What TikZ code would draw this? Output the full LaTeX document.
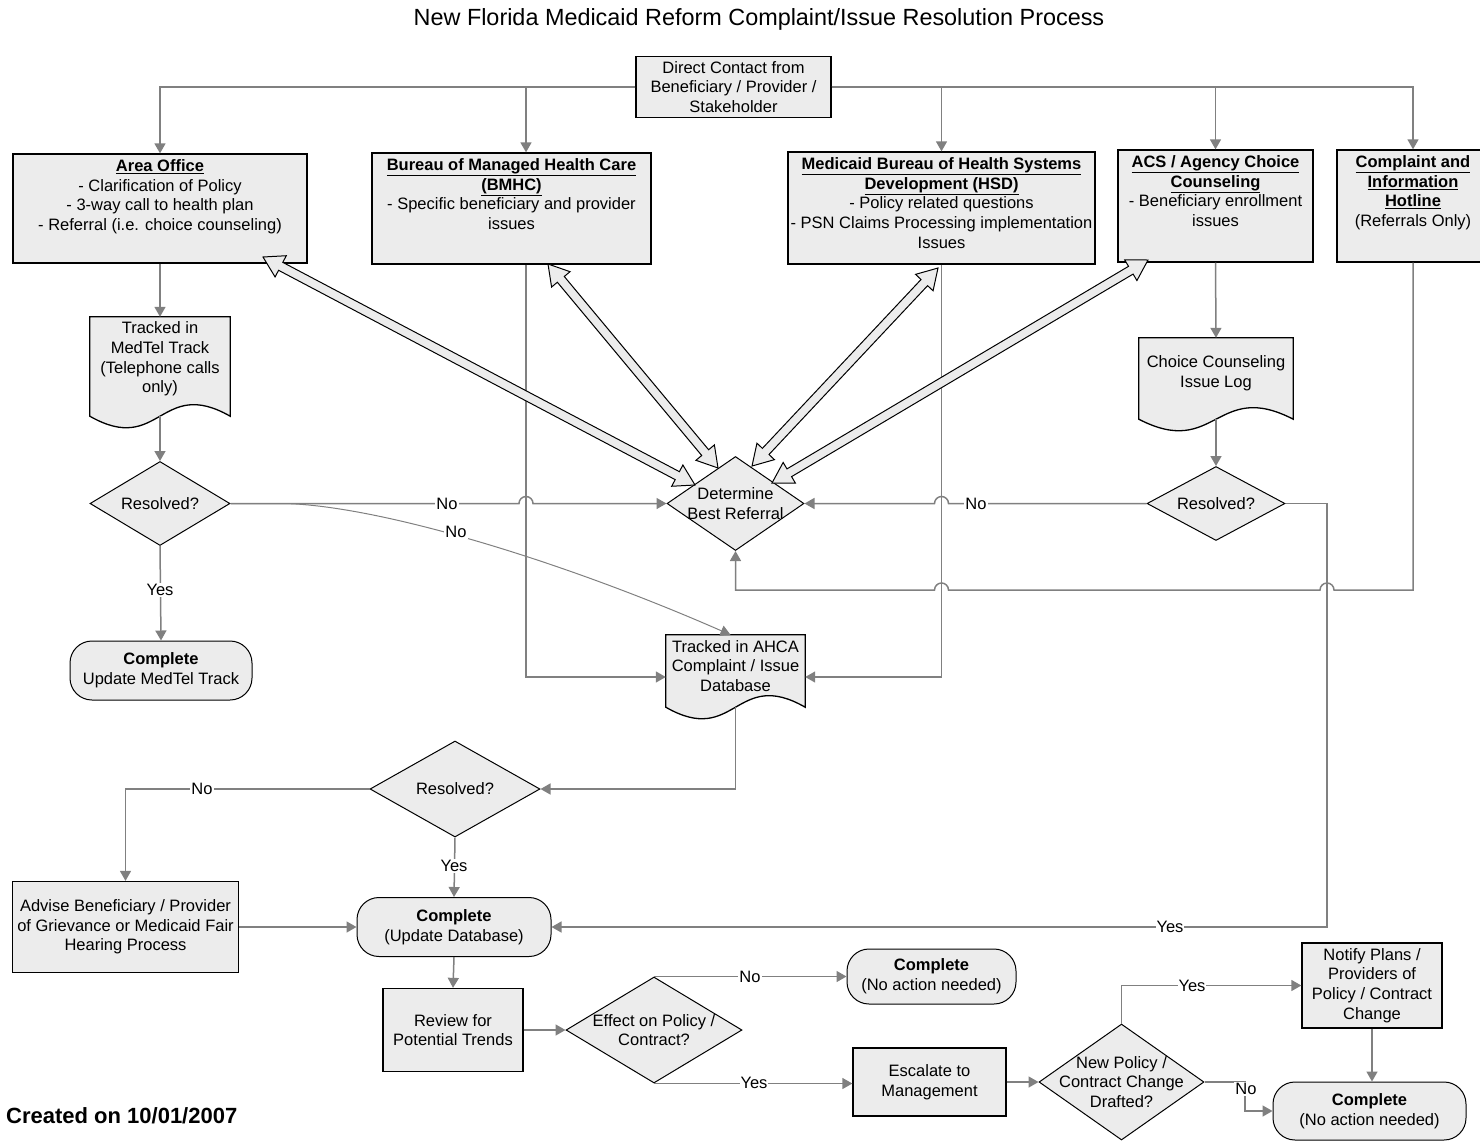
\documentclass[tikz,border=0pt]{standalone}
\usepackage{fontspec}
\setmainfont{Liberation Sans}
\usetikzlibrary{shapes.geometric,arrows.meta,calc,backgrounds}
\definecolor{boxfill}{HTML}{ECECEC}
\definecolor{conn}{HTML}{808080}
\newcommand\bodyfont{\fontsize{16.5}{19.7}\selectfont}
\newcommand\hd[1]{\textbf{\underline{#1}}}
\tikzset{
 box/.style={draw=black, line width=1.3pt, fill=boxfill, inner sep=0pt, align=center, font=\bodyfont},
 stad/.style={draw=black, line width=1pt, fill=boxfill, rounded corners=22pt, inner sep=0pt, align=center, font=\bodyfont},
 dia/.style={diamond, draw=black, line width=1pt, fill=boxfill, inner sep=0pt},
 txt/.style={align=center, inner sep=0pt, font=\bodyfont},
 docnode/.style={inner sep=0pt},
 arr/.style={draw=conn, line width=1.5pt, -{Triangle[length=10pt,width=11pt]}},
 lbl/.style={fill=white, inner sep=1pt, font=\bodyfont},
}
\newcommand\docshape[1]{%
 \begin{pgfonlayer}{background}
 \draw[draw=black, line width=1.3pt, fill=boxfill] (#1.north west) -- (#1.north east) -- (#1.south east)
   .. controls ($(#1.south)+(0,-40)$) and ($(#1.south)+(0,40)$) .. (#1.south west) -- cycle;
 \end{pgfonlayer}}
\newcommand\dblarrow[2]{%
 \path[draw=black, line width=1pt, fill=boxfill] let \p1=($(#2)-(#1)$), \n1={veclen(\x1,\y1)}, \n2={atan2(\y1,\x1)} in
  (#1) -- ([shift={(#1)},rotate=\n2]20pt,12pt) -- ([shift={(#1)},rotate=\n2]20pt,4.5pt)
  -- ([shift={(#1)},rotate=\n2]\n1-20pt,4.5pt) -- ([shift={(#1)},rotate=\n2]\n1-20pt,12pt)
  -- (#2) -- ([shift={(#1)},rotate=\n2]\n1-20pt,-12pt) -- ([shift={(#1)},rotate=\n2]\n1-20pt,-4.5pt)
  -- ([shift={(#1)},rotate=\n2]20pt,-4.5pt) -- ([shift={(#1)},rotate=\n2]20pt,-12pt) -- cycle;}
\begin{document}
\begin{tikzpicture}[x=1pt,y=-1pt]
\useasboundingbox (0,0) rectangle (1480,1141);
\node[font=\fontsize{23.4}{28}\selectfont] (title) at (759,19) {New Florida Medicaid Reform Complaint/Issue Resolution Process};
\node[font=\bfseries\fontsize{22}{26}\selectfont, anchor=west, inner sep=0pt] (cr) at (6,1116) {Created on 10/01/2007};

% top contact
\node[box, minimum width=195pt, minimum height=61pt] (dc) at (733.5,87) {Direct Contact from\\Beneficiary / Provider /\\Stakeholder};

% top row boxes
\node[box, minimum width=294pt, minimum height=109pt] (ao) at (160,208.5) {};
\node[txt, anchor=north] (aot) at ($(ao.north)+(0,6)$) {\hd{Area Office}\\- Clarification of Policy\\- 3-way call to health plan\\- Referral (i.e. choice counseling)};
\node[box, minimum width=279pt, minimum height=111pt] (bm) at (511.5,208.5) {};
\node[txt, anchor=north] (bmt) at ($(bm.north)+(0,6)$) {\hd{Bureau of Managed Health Care}\\\hd{(BMHC)}\\- Specific beneficiary and provider\\issues};
\node[box, minimum width=307pt, minimum height=112pt] (hs) at (941.5,208) {};
\node[txt, anchor=north] (hst) at ($(hs.north)+(0,6)$) {\hd{Medicaid Bureau of Health Systems}\\\hd{Development (HSD)}\\- Policy related questions\\- PSN Claims Processing implementation\\Issues};
\node[box, minimum width=195pt, minimum height=112pt] (ac) at (1215.5,206) {};
\node[txt, anchor=north] (act) at ($(ac.north)+(0,6)$) {\hd{ACS / Agency Choice}\\\hd{Counseling}\\- Beneficiary enrollment\\issues};
\node[box, minimum width=152pt, minimum height=112pt] (ho) at (1413,206) {};
\node[txt, anchor=north] (hot) at ($(ho.north)+(0,6)$) {\hd{Complaint and}\\\hd{Information}\\\hd{Hotline}\\(Referrals Only)};

% documents
\node[docnode, minimum width=140pt, minimum height=99pt] (mt) at (160,366.5) {};
\docshape{mt}
\node[txt] (mtt) at (160,359) {Tracked in\\MedTel Track\\(Telephone calls\\only)};
\node[docnode, minimum width=154pt, minimum height=81pt] (cl) at (1216,378.5) {};
\docshape{cl}
\node[txt] (clt) at (1216,373) {Choice Counseling\\Issue Log};
\node[docnode, minimum width=139pt, minimum height=72pt] (db) at (735.5,671) {};
\docshape{db}
\node[txt] (dbt) at (735.5,666) {Tracked in AHCA\\Complaint / Issue\\Database};

% diamonds
\node[dia, minimum width=140pt, minimum height=84pt] (r1) at (160,503.5) {};
\node[txt] (r1t) at (r1) {Resolved?};
\node[dia, minimum width=137pt, minimum height=94pt] (dt) at (735.5,503.5) {};
\node[txt] (dtt) at (dt) {Determine\\Best Referral};
\node[dia, minimum width=138pt, minimum height=74pt] (r2) at (1216,503.5) {};
\node[txt] (r2t) at (r2) {Resolved?};
\node[dia, minimum width=170pt, minimum height=96pt] (r3) at (455,789) {};
\node[txt] (r3t) at (r3) {Resolved?};
\node[dia, minimum width=176pt, minimum height=106pt] (ef) at (654,1030) {};
\node[txt] (eft) at (ef) {Effect on Policy /\\Contract?};
\node[dia, minimum width=165pt, minimum height=116pt] (np) at (1121.5,1082) {};
\node[txt] (npt) at (np) {New Policy /\\Contract Change\\Drafted?};

% terminals
\node[stad, minimum width=182pt, minimum height=59pt] (c1) at (161,670.5) {\textbf{Complete}\\Update MedTel Track};
\node[stad, minimum width=194pt, minimum height=59pt] (cu) at (454,927) {\textbf{Complete}\\(Update Database)};
\node[stad, minimum width=169pt, minimum height=55pt] (cn) at (931.5,976.5) {\textbf{Complete}\\(No action needed)};
\node[stad, minimum width=193pt, minimum height=58pt] (cb) at (1369.5,1111) {\textbf{Complete}\\(No action needed)};

% process boxes
\node[box, minimum width=226pt, minimum height=91pt] (ad) at (125.5,927) {Advise Beneficiary / Provider\\of Grievance or Medicaid Fair\\Hearing Process};
\node[box, minimum width=140pt, minimum height=83pt] (rv) at (453,1030) {Review for\\Potential Trends};
\node[box, minimum width=153pt, minimum height=68pt] (es) at (929.5,1082) {Escalate to\\Management};
\node[box, minimum width=140pt, minimum height=85pt] (nt) at (1372,985.5) {Notify Plans /\\Providers of\\Policy / Contract\\Change};

% connectors from direct contact
\draw[arr] (dc.west) -| (ao.north);
\draw[arr] (dc.west) -| ($(bm.north)+(14.5,0)$);
\draw[arr] (dc.east) -| (hs.north);
\draw[arr] (dc.east) -| (ac.north);
\draw[arr] (dc.east) -| (ho.north);

% left column
\draw[arr] (ao.south) -- (mt.north);
\draw[arr] (mt.south) -- (r1.north);
\draw[arr] (r1.south) -- (c1.north);
\node[lbl] (y1) at (160,590) {Yes};
\draw[arr] (r1.east) -- (519,503.5) arc[start angle=180, end angle=0, radius=7pt] -- (dt.west);
\node[lbl] (n1) at (447,503.5) {No};
\draw[draw=conn, line width=1pt, -{Triangle[length=10pt,width=11pt]}] (r1.east) -- (285,503.5) .. controls (380,506) and (560,560) .. ($(db.north)+(-5,0)$);
\node[lbl] (n2) at (456,532) {No};

% BMHC and HSD to database
\draw[arr] ($(bm.south)+(14.5,0)$) |- ($(db.west)+(0,6)$);
\draw[arr] (hs.south) |- ($(db.east)+(0,6)$);

% right column
\draw[arr] (ac.south) -- (cl.north);
\draw[arr] (cl.south) -- (r2.north);
\draw[arr] (r2.west) -- (948.5,503.5) arc[start angle=0, end angle=180, radius=7pt] -- (dt.east);
\node[lbl] (n3) at (976,503.5) {No};
\draw[arr] (ho.south) -- (1413,590) -- (1334,590) arc[start angle=0, end angle=180, radius=7pt]
  -- (948.5,590) arc[start angle=0, end angle=180, radius=7pt] -- (735.5,590) -- (dt.south);
\draw[arr] (r2.east) -- (1327,503.5) -- (1327,927) -- (cu.east);
\node[lbl] (y2) at (1170,927) {Yes};

% lower
\draw[arr] (db.south) |- (r3.east);
\draw[arr] (r3.west) -| (ad.north);
\node[lbl] (n4) at (202,789) {No};
\draw[arr] (r3.south) -- (cu.north);
\node[lbl] (y3) at (454,866) {Yes};
\draw[arr] (ad.east) -- (cu.west);
\draw[arr] (cu.south) -- (rv.north);
\draw[arr] (rv.east) -- (ef.west);
\draw[arr] (ef.north) -- (ef.north -| cn.west);
\node[lbl] (n5) at (750,977) {No};
\draw[arr] (ef.south) -- (ef.south -| es.west);
\node[lbl] (y4) at (754,1083) {Yes};
\draw[arr] (es.east) -- (np.west);
\draw[arr] (np.north) |- (nt.west);
\node[lbl] (y5) at (1192,985.5) {Yes};
\draw[arr] (np.east) -- (1245,1082) -- (1245,1111) -- (cb.west);
\node[lbl] (n6) at (1246,1089) {No};
\draw[arr] (nt.south) -- (nt.south |- cb.north);

% hollow double arrows
\coordinate (a1s) at (263,257); \coordinate (a1e) at (695,485);
\coordinate (a2s) at (548,264); \coordinate (a2e) at (718,468);
\coordinate (a3s) at (938,268); \coordinate (a3e) at (752,466);
\coordinate (a4s) at (1148,260); \coordinate (a4e) at (772,483);
\dblarrow{a1s}{a1e}
\dblarrow{a2s}{a2e}
\dblarrow{a3s}{a3e}
\dblarrow{a4s}{a4e}
\end{tikzpicture}
\end{document}
